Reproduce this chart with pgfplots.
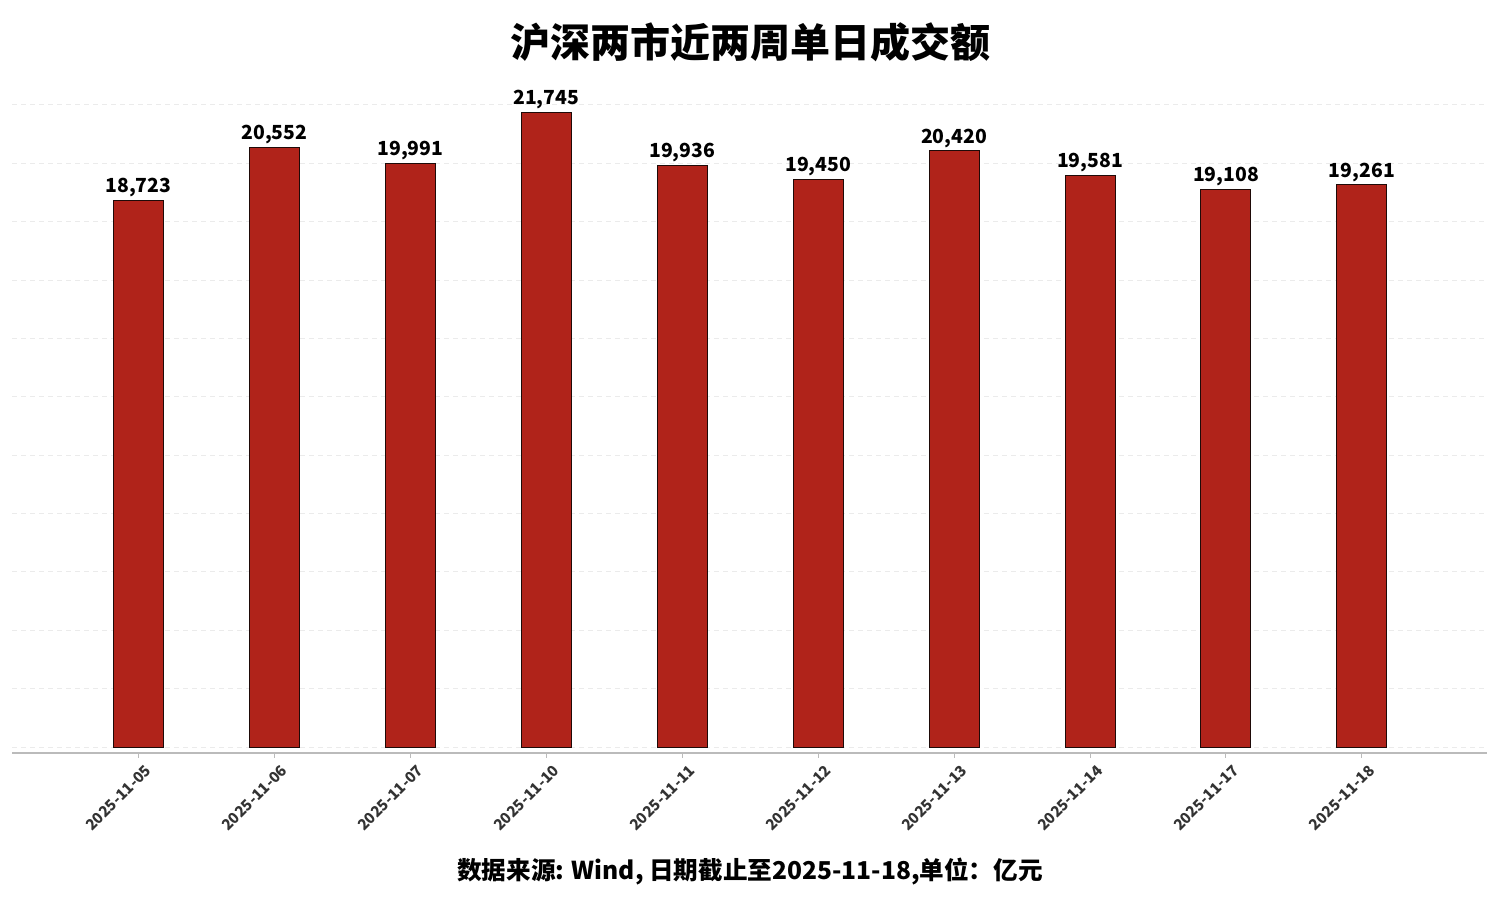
\documentclass[border=0pt]{standalone}
\usepackage{fontspec}
\setmainfont{Noto Sans CJK SC}
\usepackage{pgfplots}
\pgfplotsset{compat=1.18}
\usepackage{pgfplotstable}

\definecolor{barred}{HTML}{B0231A}
\definecolor{baredge}{HTML}{1E0A08}
\definecolor{gridc}{HTML}{EBEBEB}
\definecolor{axisc}{HTML}{BBBBBB}
\definecolor{tickc}{HTML}{333333}

\pgfplotstableread{
idx value
0 18723
1 20552
2 19991
3 21745
4 19936
5 19450
6 20420
7 19581
8 19108
9 19261
}\turnover

\begin{document}
\begin{tikzpicture}
\useasboundingbox (0pt,0pt) rectangle (750pt,450pt);
% title and footer
\node[font=\bfseries\fontsize{20}{24}\selectfont] at (375pt,429pt) {沪深两市近两周单日成交额};
\node[font=\bfseries\fontsize{12.3}{15}\selectfont] at (375pt,14pt) {数据来源: Wind, 日期截止至2025-11-18,单位：亿元};
\begin{axis}[
    at={(6pt,73.5pt)}, anchor=south west,
    width=737.5pt, height=328.5pt, scale only axis,
    xmin=-0.93, xmax=9.92,
    ymin=-205, ymax=22300,
    axis lines*=left,
    y axis line style={draw=none},
    x axis line style={axisc, line width=0.6pt},
    ytick={0,2000,...,22000},
    yticklabels={},
    scaled y ticks=false,
    ytick style={draw=none},
    ymajorgrids,
    major grid style={gridc, dash pattern=on 2.5pt off 2pt, line width=0.4pt},
    xtick=data,
    xticklabels={2025-11-05,2025-11-06,2025-11-07,2025-11-10,2025-11-11,2025-11-12,2025-11-13,2025-11-14,2025-11-17,2025-11-18},
    x tick label style={xshift=7.5pt, yshift=-2.5pt, rotate=45, anchor=east, font=\bfseries\fontsize{7.5}{9}\selectfont, text=tickc},
    tick align=outside,
    major tick length=2.5pt,
    xtick style={axisc, line width=0.5pt},
    /pgf/number format/assume math mode=true,
    clip=false,
]
\addplot[ybar, bar width=25pt, fill=barred, draw=baredge, line width=0.5pt,
    nodes near coords,
    nodes near coords style={font=\bfseries\fontsize{9.7}{12}\selectfont, text=black, yshift=-2pt,
        /pgf/number format/.cd, fixed, precision=0, 1000 sep={,}},
    ] table[x=idx, y=value] {\turnover};
\end{axis}
\end{tikzpicture}
\end{document}
